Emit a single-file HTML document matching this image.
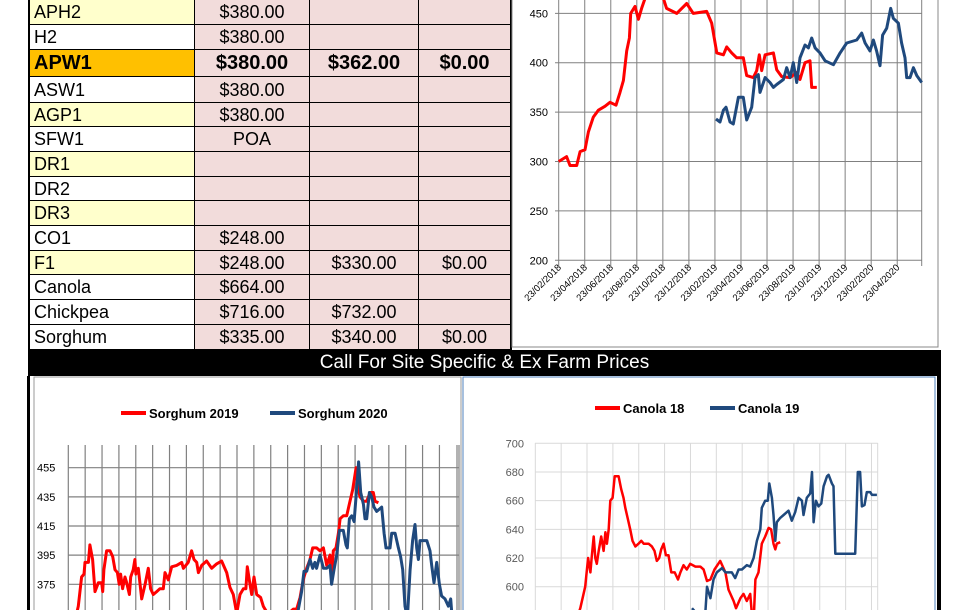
<!DOCTYPE html>
<html><head><meta charset="utf-8">
<style>
body{margin:0;width:968px;height:610px;overflow:hidden;background:#fff;font-family:"Liberation Sans",Arial,sans-serif;position:relative}
.c{position:absolute;box-sizing:border-box;font-size:18px;line-height:1;display:flex;align-items:center;border-right:1.5px solid #000;border-bottom:1.5px solid #000;white-space:nowrap}
.l{padding-left:4px}
.p{background:#f2dcdb;justify-content:center}
.y{background:#ffffcc}
.w{background:#fff}
.o{background:#ffc000;font-weight:bold;font-size:20px}
.b{font-weight:bold;font-size:20px}
svg{position:absolute;left:0;top:0}
</style></head><body>
<div id="table"></div>
<div style="position:absolute;left:28px;top:350px;width:913px;height:26px;background:#000;color:#fff;font-size:19px;display:flex;align-items:center;justify-content:center">Call For Site Specific &amp; Ex Farm Prices</div>
<svg id="svg" width="968" height="610" xmlns="http://www.w3.org/2000/svg">
<defs>
<clipPath id="c1"><rect x="512" y="0" width="426" height="347"/></clipPath>
<clipPath id="c2"><rect x="34" y="376" width="427" height="234"/></clipPath>
<clipPath id="c3"><rect x="463" y="376" width="472" height="234"/></clipPath>
</defs>
<rect x="510" y="0" width="2" height="350" fill="#000"/>
<rect x="512" y="-2" width="426" height="349" fill="none" stroke="#888" stroke-width="1"/>
<rect x="27" y="376" width="3" height="234" fill="#000"/>
<rect x="937" y="376" width="4" height="234" fill="#000"/>
<rect x="34" y="377" width="427" height="240" fill="none" stroke="#999"/>
<rect x="463" y="377" width="472" height="240" fill="none" stroke="#4f81bd"/>
<g id="g1" clip-path="url(#c1)"></g>
<g id="g2" clip-path="url(#c2)"></g>
<g id="g3" clip-path="url(#c3)"></g>
<g font-family="Liberation Sans Narrow,Liberation Sans,sans-serif" font-weight="bold" font-size="13">
<line x1="121" y1="413" x2="146" y2="413" stroke="#f00" stroke-width="4"/><text x="149" y="418">Sorghum 2019</text>
<line x1="270" y1="413" x2="295" y2="413" stroke="#1f497d" stroke-width="4"/><text x="298" y="418">Sorghum 2020</text>
</g>
<g font-family="Liberation Sans Narrow,Liberation Sans,sans-serif" font-weight="bold" font-size="13">
<line x1="595" y1="408" x2="620" y2="408" stroke="#f00" stroke-width="4"/><text x="623" y="413">Canola 18</text>
<line x1="710" y1="408" x2="735" y2="408" stroke="#1f497d" stroke-width="4"/><text x="738" y="413">Canola 19</text>
</g>
</svg>
<script>
// ---------- table ----------
const rowLabels=["APH2","H2","APW1","ASW1","AGP1","SFW1","DR1","DR2","DR3","CO1","F1","Canola","Chickpea","Sorghum"];
const col2=["$380.00","$380.00","$380.00","$380.00","$380.00","POA","","","","$248.00","$248.00","$664.00","$716.00","$335.00"];
const col3=["","","$362.00","","","","","","","","$330.00","","$732.00","$340.00"];
const col4=["","","$0.00","","","","","","","","$0.00","","","$0.00"];
const rowBg=["y","w","o","w","y","w","y","w","y","w","y","w","w","w"];
const rowEdges=[0,25,50,77,103,127,152,177,201,226,251,275,300,325,350];
const colEdges=[28,195,310,419,511];
const tb=document.getElementById('table');
for(let r=0;r<rowLabels.length;r++){
  const vals=[rowLabels[r],col2[r],col3[r],col4[r]];
  for(let c=0;c<4;c++){
    const d=document.createElement('div');
    
    
    let cls='c '+(c==0?('l '+rowBg[r]):'p');
    if(c>0&&r==2)cls+=' b';
    d.className=cls;
    d.style.left=colEdges[c]+'px';d.style.top=rowEdges[r]+'px';
    d.style.width=(colEdges[c+1]-colEdges[c])+'px';d.style.height=(rowEdges[r+1]-rowEdges[r])+'px';
    if(c==0)d.style.borderLeft='2px solid #000';
    d.textContent=vals[c];
    tb.appendChild(d);
  }
}
// ---------- chart data ----------
// Wheat chart (months since 23/02/2018)
const wheatTicks=["23/02/2018","23/04/2018","23/06/2018","23/08/2018","23/10/2018","23/12/2018","23/02/2019","23/04/2019","23/06/2019","23/08/2019","23/10/2019","23/12/2019","23/02/2020","23/04/2020"];
const wheatY=[200,250,300,350,400,450];
const wheatRedX=[0,0.61,0.87,1.38,1.64,2.02,2.28,2.66,3.05,3.56,3.94,4.40,4.71,4.97,5.22,5.43,5.53,5.86,6.12,6.37,6.63,7.01,8.04,8.29,9.06,9.83,10.34,11.37,11.75,12.14,12.65,12.90,13.29,13.67,14.18,14.44,14.95,15.21,15.41,15.59,15.85,16.49,16.74,17.13,17.77,18.28,18.53,18.92,19.30,19.43,19.82];
const wheatRedV=[300,305,296,296,310,312,330,345,352,356,360,357,370,382,412,425,450,457,444,455,465,475,465,455,450,460,450,452,440,410,408,416,410,405,405,387,385,392,408,392,408,410,393,386,385,390,383,400,402,375,375];
const wheatBlueX=[12.08,12.39,12.65,12.85,13.16,13.41,13.80,14.18,14.44,14.82,15.08,15.33,15.46,15.85,16.23,16.49,16.74,17.26,17.51,17.77,18.02,18.28,18.53,18.92,19.18,19.43,19.69,20.07,20.46,21.10,21.61,22.12,22.89,23.27,23.53,23.91,24.17,24.42,24.68,24.88,25.19,25.50,25.70,26.09,26.34,26.60,26.73,26.98,27.24,27.50,27.88];
const wheatBlueV=[343,340,352,355,340,338,365,365,342,355,385,388,370,385,380,375,378,383,395,385,400,380,405,418,415,425,415,410,402,398,410,420,423,430,420,412,423,412,397,428,435,455,445,440,420,405,385,385,395,387,380];
// Sorghum chart (grid units)
const sorgY=[375,395,415,435,455];
const sorgRedX=[0.30,0.59,0.79,0.93,0.99,1.19,1.28,1.44,1.58,1.78,1.98,2.04,2.11,2.27,2.47,2.63,2.77,2.91,3.02,3.10,3.22,3.36,3.46,3.62,3.70,3.85,3.95,4.01,4.15,4.35,4.55,4.74,4.88,5.04,5.24,5.43,5.63,5.73,5.93,6.13,6.42,6.72,6.82,7.11,7.31,7.45,7.61,7.71,7.91,8.20,8.50,8.79,9.09,9.39,9.58,9.78,9.98,10.18,10.38,10.53,10.61,10.77,10.87,11.01,11.17,11.40,11.56,11.76,12.45,13.14,13.34,13.54,13.74,13.83,13.97,14.13,14.33,14.49,14.72,14.92,15.12,15.32,15.51,15.61,15.71,15.87,16.01,16.11,16.30,16.50,16.70,16.86,17.06,17.19,17.29,17.49,17.69,17.89,18.08,18.18,18.38];
const sorgRedV=[345,360,380,382,390,390,402,392,370,376,376,370,385,398,398,394,385,383,375,382,372,380,376,368,380,385,392,382,386,365,375,386,372,368,370,372,372,383,378,387,388,390,386,390,398,392,390,383,388,391,386,389,391,383,373,368,355,368,372,372,387,375,368,380,368,366,360,356,340,356,358,358,366,372,380,386,392,400,400,398,400,388,395,378,398,400,410,420,422,422,432,440,455,440,435,432,432,438,438,432,431];
const sorgBlueX=[13.34,13.64,13.83,13.97,14.13,14.33,14.49,14.62,14.72,14.92,15.12,15.32,15.51,15.61,15.75,15.91,16.07,16.30,16.46,16.54,16.66,16.80,16.94,17.09,17.21,17.33,17.49,17.59,17.69,17.85,17.98,18.12,18.28,18.58,18.72,18.83,19.07,19.17,19.37,19.57,19.70,19.82,19.96,20.10,20.26,20.41,20.55,20.65,20.75,20.85,21.05,21.25,21.44,21.54,21.68,21.84,22.00,22.13,22.33,22.53,22.67,22.73];
const sorgBlueV=[345,358,370,384,384,392,386,390,386,395,386,386,388,375,385,395,412,412,402,400,420,422,418,440,459,438,430,420,420,438,435,428,425,428,410,400,400,410,410,400,394,385,360,352,385,405,416,400,392,405,405,405,398,388,376,390,375,367,365,360,365,355];
// Canola chart (grid units)
const canY=[600,620,640,660,680,700];
const canRedX=[1.55,1.74,1.93,2.04,2.13,2.19,2.26,2.32,2.38,2.45,2.55,2.64,2.71,2.77,2.84,2.90,2.99,3.07,3.22,3.32,3.41,3.48,3.57,3.67,3.76,3.87,3.99,4.10,4.19,4.38,4.51,4.61,4.70,4.79,4.87,4.96,5.05,5.15,5.26,5.39,5.52,5.61,5.73,5.86,5.99,6.19,6.38,6.51,6.64,6.77,6.93,7.15,7.35,7.47,7.67,7.76,7.93,8.05,8.18,8.31,8.38,8.44,8.51,8.63,8.76,8.89,9.02,9.12,9.21,9.28,9.34,9.47];
const canRedV=[575,585,600,620,610,622,635,620,616,625,635,625,638,630,640,660,662,677,677,668,662,655,648,640,632,628,630,632,630,630,628,625,618,620,626,630,622,622,610,610,605,610,615,612,616,614,614,612,604,605,612,618,610,598,590,585,592,595,590,595,580,575,605,610,630,635,641,640,630,626,630,631];
const canBlueX=[6.06,6.55,6.64,6.77,6.89,7.02,7.22,7.35,7.60,7.73,7.86,7.99,8.18,8.31,8.44,8.57,8.70,8.76,8.89,8.99,9.05,9.15,9.21,9.28,9.34,9.47,9.60,9.79,9.92,10.05,10.18,10.31,10.37,10.50,10.63,10.70,10.76,10.85,10.95,11.06,11.15,11.28,11.34,11.47,11.53,11.60,12.37,12.47,12.56,12.63,12.73,12.82,12.95,13.02,13.21];
const canBlueV=[585,575,600,592,605,610,613,610,610,606,612,612,615,614,620,632,640,655,660,660,672,662,650,632,645,648,650,653,646,652,662,660,650,662,665,680,645,660,656,658,670,677,678,672,670,623,623,680,680,656,657,666,666,664,664];

const NS='http://www.w3.org/2000/svg';
function mk(parent,tag,attrs){const e=document.createElementNS(NS,tag);for(const k in attrs)e.setAttribute(k,attrs[k]);parent.appendChild(e);return e;}
function series(g,xs,vs,sx,sy,color,w,name){
  const d=xs.map((x,i)=>(i?'L':'M')+sx(x).toFixed(1)+','+sy(vs[i]).toFixed(1)).join('');
  const p=mk(g,'path',{d:d,fill:'none',stroke:color,'stroke-width':w,'stroke-linejoin':'round'});
  
  
}
const svg=document.getElementById('svg');
const RED='#ff0000',BLUE='#1f497d';
// Chart 1
{
  const sx=m=>558.7+m*13.02, sy=v=>260.3-(v-200)*0.9878;
  const g=document.getElementById('g1');
  for(let i=0;i<=wheatTicks.length;i++){const x=i<wheatTicks.length?sx(i*2):921.7;mk(g,'line',{x1:x,y1:0,x2:x,y2:266,stroke:'#808080','stroke-width':1});}
  wheatY.forEach(v=>{mk(g,'line',{x1:555,y1:sy(v),x2:921.7,y2:sy(v),stroke:'#808080','stroke-width':1});
    const t=mk(svg,'text',{x:548,y:sy(v)+4,'text-anchor':'end','font-size':11,fill:'#000'});t.textContent=v;
    });
  wheatTicks.forEach((s,i)=>{const x=sx(i*2);const t=mk(svg,'text',{x:x+3,y:268,'text-anchor':'end','font-size':9.5,fill:'#000',transform:`rotate(-45 ${x+3} 268)`});t.textContent=s;
    });
  series(g,wheatRedX,wheatRedV,sx,sy,RED,3,'wheat-2018-line');
  series(g,wheatBlueX,wheatBlueV,sx,sy,BLUE,3,'wheat-2019-line');
}
// Chart 2
{
  const sx=u=>68.3+u*16.87, sy=v=>584.3-(v-375)*1.4575;
  const g=document.getElementById('g2');
  for(let i=0;i<=23;i++){const x=i<23?sx(i):457;mk(g,'line',{x1:x,y1:445,x2:x,y2:620,stroke:'#808080','stroke-width':1.2});}
  mk(g,'line',{x1:459,y1:445,x2:459,y2:620,stroke:'#808080','stroke-width':1.2});
  sorgY.forEach(v=>{mk(g,'line',{x1:68,y1:sy(v),x2:459,y2:sy(v),stroke:'#808080','stroke-width':1.2});
    const t=mk(svg,'text',{x:37,y:sy(v)+4,'font-size':11,fill:'#000'});t.textContent=v;
    });
  series(g,sorgRedX,sorgRedV,sx,sy,RED,3,'sorghum-2019-line');
  series(g,sorgBlueX,sorgBlueV,sx,sy,BLUE,3,'sorghum-2020-line');
}
// Chart 3
{
  const sx=u=>535.3+u*25.86, sy=v=>586.7-(v-600)*1.434;
  const g=document.getElementById('g3');
  for(let i=0;i<=13;i++){const x=sx(i);mk(g,'line',{x1:x,y1:443,x2:x,y2:620,stroke:'#d9d9d9','stroke-width':1});}
  mk(g,'line',{x1:877.7,y1:443,x2:877.7,y2:620,stroke:'#d9d9d9','stroke-width':1});
  canY.forEach(v=>{mk(g,'line',{x1:535,y1:sy(v),x2:877.7,y2:sy(v),stroke:'#d9d9d9','stroke-width':1});
    const t=mk(svg,'text',{x:524,y:sy(v)+4,'text-anchor':'end','font-size':11,fill:'#595959'});t.textContent=v;
    });
  series(g,canRedX,canRedV,sx,sy,RED,2.5,'canola-18-line');
  series(g,canBlueX,canBlueV,sx,sy,BLUE,2.5,'canola-19-line');
}
</script>
</body></html>
